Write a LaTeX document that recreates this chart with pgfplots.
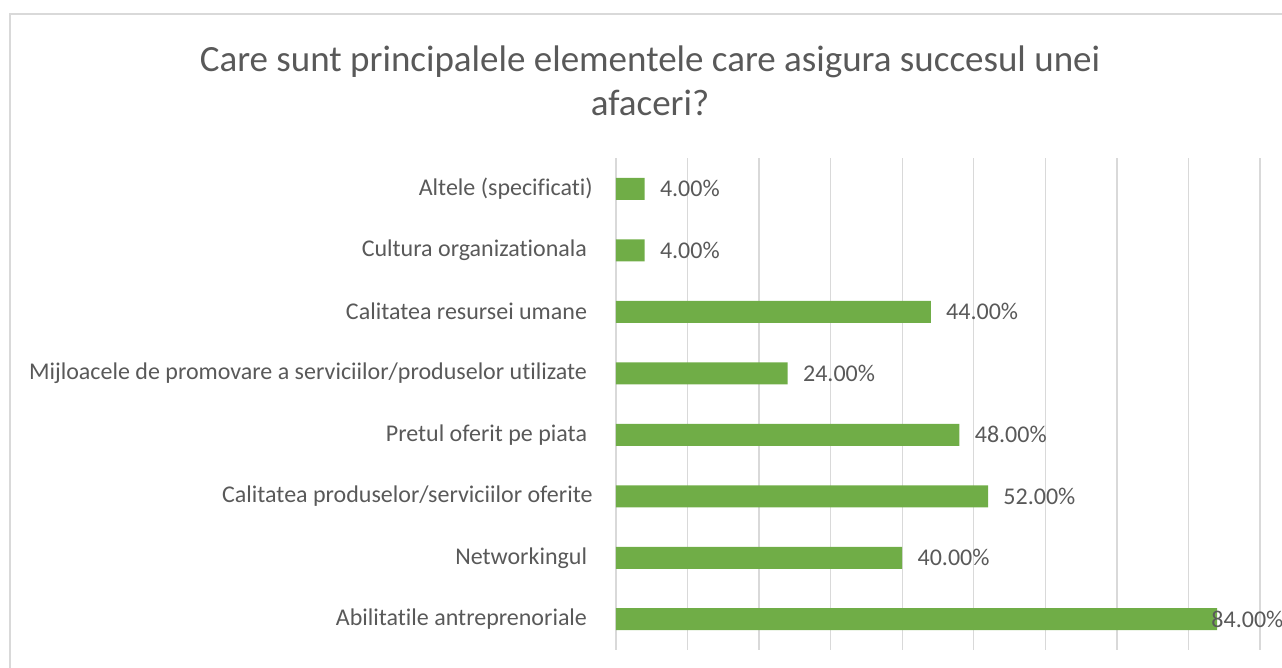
\documentclass[border=0pt]{standalone}
\usepackage{pgfplots}
\pgfplotsset{compat=1.18}
\usepackage{fontspec}
\setmainfont{Carlito}[Ligatures={NoCommon}]
\definecolor{bargreen}{HTML}{70AD47}
\definecolor{txt}{HTML}{595959}
\definecolor{gridc}{HTML}{D9D9D9}
\newcommand{\tsp}{\kern2.8pt}

\begin{document}
\begin{tikzpicture}
  \useasboundingbox (0pt,0pt) rectangle (641pt,-334pt);
  % chart frame (continues past the right and bottom edges)
  \draw[gridc,line width=0.75pt] (5pt,-334pt) -- (5pt,-7pt) -- (641pt,-7pt);
  \node[txt,font=\fontsize{18.5}{22}\selectfont,anchor=base] at (325pt,-36pt)
    {Care sunt principalele elementele care asigura succesul unei};
  \node[txt,font=\fontsize{18.5}{22}\selectfont,anchor=base] at (325pt,-58pt)
    {afaceri?};
  \begin{axis}[
    at={(308pt,-325pt)}, anchor=south west,
    scale only axis, width=322pt, height=246pt,
    xmin=0, xmax=90, ymin=-0.5, ymax=7.5,
    xtick={0,10,...,90}, xticklabels={},
    ytick={0,...,7},
    yticklabels={Abilitatile antreprenoriale\tsp,
                 Networkingul\tsp,
                 Calitatea produselor/serviciilor oferite,
                 Pretul oferit pe piata\tsp,
                 Mijloacele de promovare a serviciilor/produselor utilizate\tsp,
                 Calitatea resursei umane\tsp,
                 Cultura organizationala\tsp,
                 Altele (specificati)},
    major tick length=0pt,
    xmajorgrids, grid style={gridc,line width=0.7pt},
    axis line style={draw=none},
    yticklabel style={txt,font=\fontsize{12}{14}\selectfont,anchor=east,inner sep=0pt,xshift=-11.5pt},
    clip=false,
  ]
    \addplot[xbar, fill=bargreen, draw=none, bar width=11pt,
      point meta=x,
      visualization depends on={\thisrow{s} \as \sh},
      nodes near coords={\pgfmathprintnumber[fixed,fixed zerofill,precision=2,assume math mode=true]{\pgfplotspointmeta}\%},
      every node near coord/.append style={txt,font=\fontsize{12}{14}\selectfont,anchor=west,inner sep=0pt,xshift=\sh pt},
    ] table {
      v  y  s
      84 0 -3
      40 1 7.5
      52 2 7.5
      48 3 7.5
      24 4 7.5
      44 5 7.5
      4  6 7.5
      4  7 7.5
    };
  \end{axis}
\end{tikzpicture}
\end{document}
